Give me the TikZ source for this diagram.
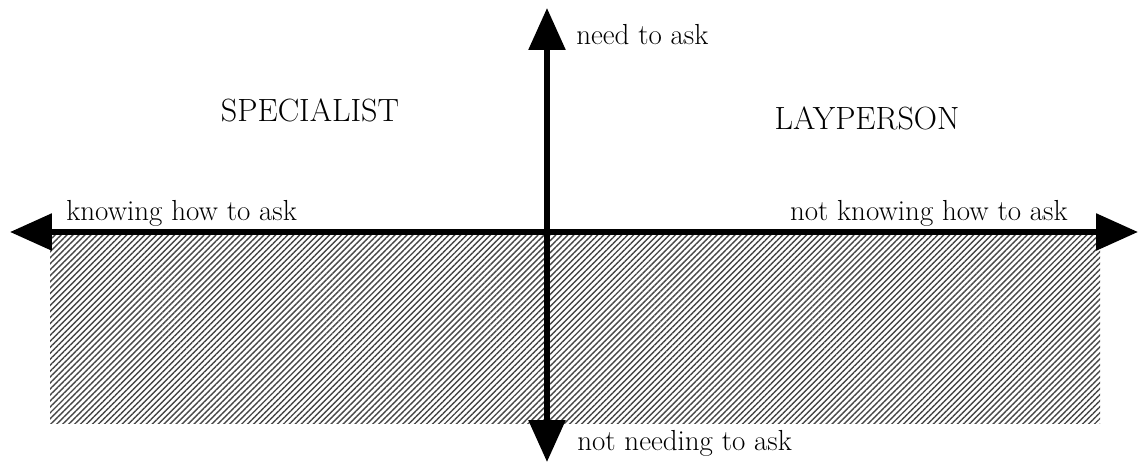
\documentclass[tikz,border=0pt]{standalone}
\usepackage{xcolor}
\usepackage{tikz}
\usetikzlibrary{
  arrows.meta,
  positioning,
  patterns.meta
}
\definecolor{HatchGray}{RGB}{70, 70, 70}
\tikzset{
    axisline/.style={line width=3.3pt, -{Triangle[length=0.84cm, width=0.72cm]}},
    quadlabel/.style={font=\fontsize{18.3}{21}\selectfont, inner sep=0pt},
    axislabel/.style={font=\fontsize{16.5}{19}\selectfont, inner sep=0pt},
    hatched/.style={pattern={Lines[angle=45, distance=2.4pt, line width=0.8pt]}, pattern color=HatchGray},
}

\begin{document}
\begin{tikzpicture}[x=0.02cm, y=-0.02cm]
    \useasboundingbox (0,0) rectangle (1139,463);
    % shaded lower half
    \fill[hatched] (50,234) rectangle (1100,423);
    % axes
    \coordinate (origin) at (547,232);
    \coordinate (west) at (10,232);
    \coordinate (east) at (1138,232);
    \coordinate (north) at (547,8);
    \coordinate (south) at (547,462);
    \draw[axisline] (origin) -- (west);
    \draw[axisline] (origin) -- (east);
    \draw[axisline] (origin) -- (north);
    \draw[axisline] (origin) -- (south);
    % labels
    \node[quadlabel] (specialist) at (310,110) {SPECIALIST};
    \node[quadlabel] (layperson) at (867,118) {LAYPERSON};
    \node[axislabel, anchor=base west] (knowing) at (66,220) {knowing how to ask};
    \node[axislabel, anchor=base east] (notknowing) at (1068,220) {not knowing how to ask};
    \node[axislabel, anchor=base west] (need) at (576,44) {need to ask};
    \node[axislabel, anchor=base west] (notneed) at (577,450) {not needing to ask};
\end{tikzpicture}
\end{document}
